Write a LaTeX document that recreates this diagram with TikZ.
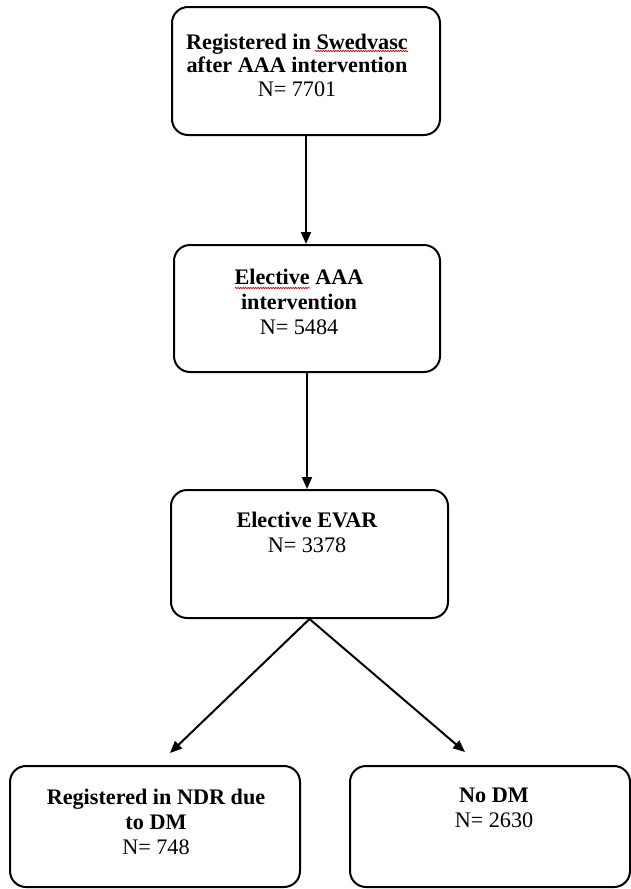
\documentclass[tikz,border=0pt]{standalone}
\usepackage{fontspec}
\setmainfont{Liberation Serif}
\usetikzlibrary{arrows.meta,decorations.pathmorphing}
\begin{document}
\begin{tikzpicture}[x=1pt,y=-1pt,
  box/.style={draw, line width=2pt, rounded corners=16pt, inner sep=0pt},
  lbl/.style={align=center, anchor=center, inner sep=0pt, font=\fontsize{22.2}{25}\selectfont},
  arr/.style={line width=2pt, -{Triangle[length=12pt,width=10pt]}},
  squig/.style={red!80!black, line width=0.7pt, decorate,
                decoration={snake, amplitude=0.7pt, segment length=2.5pt}}]
\useasboundingbox (0,0) rectangle (631,889);

% boxes
\node[box, minimum width=268pt, minimum height=128pt] (b1) at (306,71) {};
\node[box, minimum width=266pt, minimum height=127pt] (b2) at (307,308.5) {};
\node[box, minimum width=277pt, minimum height=128pt] (b3) at (309.5,554) {};
\node[box, minimum width=290pt, minimum height=121pt] (b4) at (155,826.5) {};
\node[box, minimum width=280pt, minimum height=121pt] (b5) at (490,826.5) {};

% labels
\node[lbl, font=\fontsize{22.2}{23.5}\selectfont] (l1) at (297,65)
  {\textbf{Registered in Swedvasc}\\ \textbf{after AAA intervention}\\ N= 7701};
\node[lbl] (l2) at (299,302) {\textbf{Elective AAA}\\ \textbf{intervention}\\ N= 5484};
\node[lbl] (l3) at (307,532) {\textbf{Elective EVAR}\\ N= 3378};
\node[lbl] (l4) at (156,822) {\textbf{Registered in NDR due}\\ \textbf{to DM}\\ N= 748};
\node[lbl] (l5) at (494,808) {\textbf{No DM}\\ N= 2630};

% spelling marks
\draw[squig] (315,51) -- (408,51);
\draw[squig] (235,288) -- (310,288);

% connectors
\coordinate (t4) at (170,753);
\coordinate (t5) at (465,752);
\draw[arr] (b1.south) -- (b1.south |- b2.north);
\draw[arr] (b2.south) -- (b2.south |- b3.north);
\draw[arr] (b3.south) -- (t4);
\draw[arr] (b3.south) -- (t5);
\end{tikzpicture}
\end{document}
